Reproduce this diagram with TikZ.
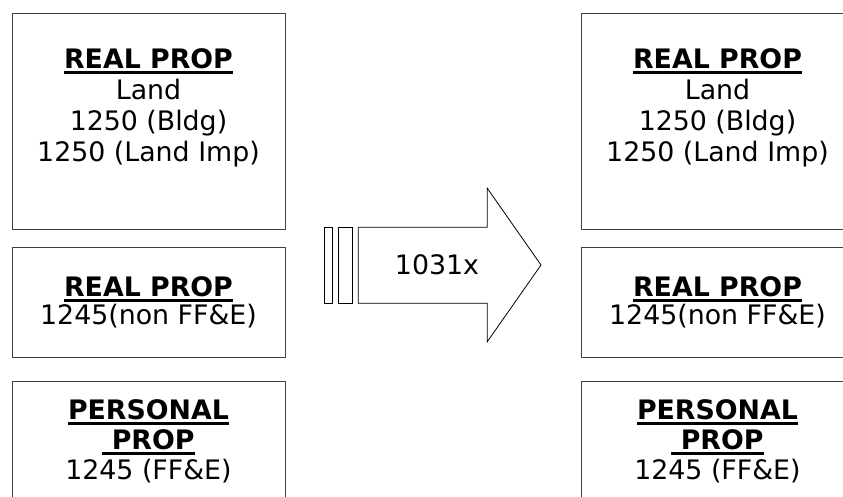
\documentclass[tikz,border=0pt]{standalone}
\usepackage{fontspec}
\setmainfont{DejaVu Sans}
\usetikzlibrary{positioning}
\newsavebox{\ulsave}
\newcommand{\Ul}[1]{\sbox\ulsave{#1}\rlap{\rule[-5.5pt]{\wd\ulsave}{3pt}}\usebox\ulsave}
\tikzstyle{prop}=[draw=black!75,rectangle,line width=1pt,minimum width=273pt]
\tikzstyle{proptext}=[align=center,anchor=base,inner sep=0pt,font=\fontsize{26.8}{31}\selectfont]
\tikzstyle{bar}=[draw,line width=.8pt]

\begin{document}
\begin{tikzpicture}[x=1pt,y=-1pt]
    \useasboundingbox (0,0) rectangle (843,496);
    \clip (0,0) rectangle (843,496);

    % left column
    \node[prop,minimum height=216pt] (RP1 left) at (148.5,121) {};
    \node[prop,minimum height=109.5pt] (RP2 left) at (148.5,302.25) {};
    \node[prop,minimum height=140pt] (PP left) at (148.5,451) {};
    \node[proptext] (RP1 left text) at (148.5,161.5)
        {\textbf{\Ul{REAL PROP}}\\Land\\1250 (Bldg)\\1250 (Land Imp)};
    \node[proptext] (RP2 left text) at (148.5,324)
        {\textbf{\Ul{REAL PROP}}\\[-3pt]1245(non FF\&E)};
    \node[proptext] (PP left text) at (148.5,479)
        {\textbf{\Ul{PERSONAL}}\\[-1pt]\textbf{\Ul{\ PROP}}\\[-1pt]1245 (FF\&E)};

    % right column
    \node[prop,minimum height=216pt] (RP1 right) at (717.5,121) {};
    \node[prop,minimum height=109.5pt] (RP2 right) at (717.5,302.25) {};
    \node[prop,minimum height=140pt] (PP right) at (717.5,451) {};
    \node[proptext] (RP1 right text) at (717.5,161.5)
        {\textbf{\Ul{REAL PROP}}\\Land\\1250 (Bldg)\\1250 (Land Imp)};
    \node[proptext] (RP2 right text) at (717.5,324)
        {\textbf{\Ul{REAL PROP}}\\[-3pt]1245(non FF\&E)};
    \node[proptext] (PP right text) at (717.5,479)
        {\textbf{\Ul{PERSONAL}}\\[-1pt]\textbf{\Ul{\ PROP}}\\[-1pt]1245 (FF\&E)};

    % transfer arrow
    \draw[bar] (324.3,227.3) rectangle (332,303.3);
    \draw[bar] (338.3,227.3) rectangle (352.3,303.3);
    \draw[bar] (358.3,227.3) -- (487.3,227.3) -- (487.3,188.3) -- (541,265)
        -- (487.3,341.7) -- (487.3,303.3) -- (358.3,303.3) -- cycle;
    \node[proptext] (times) at (437,274.7) {1031x};
\end{tikzpicture}
\end{document}
